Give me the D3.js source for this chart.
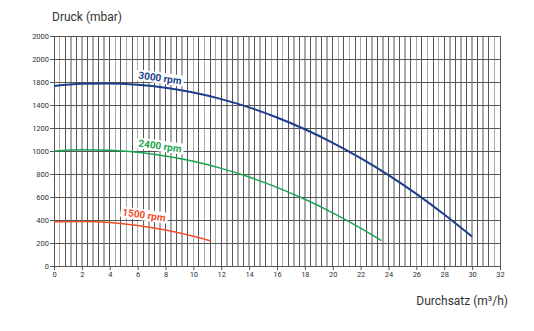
<!DOCTYPE html>
<html><head><meta charset="utf-8">
<script src="https://cdn.jsdelivr.net/npm/d3@7"></script>
<style>body{margin:0;background:#fff}svg{display:block}text{font-family:Roboto,"Noto Sans",sans-serif}</style>
</head><body><svg id="c" width="534" height="331"></svg>
<script>
const xTickValues = [0,2,4,6,8,10,12,14,16,18,20,22,24,26,28,30,32];
const yTickValues = [0,200,400,600,800,1000,1200,1400,1600,1800,2000];
const yTickLabels = ["0","200","400","600","800","1000","1200","1400","1800","2000","2000"];
const flow3000 = [0,2,4,6,8,10,12,14,16,18,20,22,24,26,28,30];
const press3000 = [1565,1584,1588,1576,1550,1508,1451,1379,1291,1189,1071,938,790,627,448,255];
const flow2400 = [0,2,4,6,8,10,12,14,16,18,20,22,23.5];
const press2400 = [1000,1011,1007,989,957,910,849,774,684,580,462,329,220];
const flow1500 = [0,2,4,6,8,10,11.2];
const press1500 = [385,388,378,352,313,259,220];
const seriesNames = ["3000 rpm","2400 rpm","1500 rpm"];

const svg = d3.select("#c");
const m = {l:54, r:34, t:36, b:65};
const W = 534, H = 331;
const x = d3.scaleLinear().domain([0,32]).range([m.l, W-m.r]);
const y = d3.scaleLinear().domain([0,2000]).range([H-m.b, m.t]);

// vertical grid (every 0.4), alternating
const g = svg.append("g");
d3.range(0, 81).forEach(i => {
  const v = i*0.4;
  g.append("line").attr("x1", x(v)).attr("x2", x(v)).attr("y1", y(2000)).attr("y2", y(0))
   .attr("stroke", i%2===0 ? "#555" : "#aaa").attr("stroke-width", i%2===0 ? 1 : 1.6)
   .attr("shape-rendering","crispEdges");
});
// horizontal grid
yTickValues.forEach(v => {
  g.append("line").attr("x1", x(0)-4).attr("x2", x(32)).attr("y1", y(v)).attr("y2", y(v))
   .attr("stroke", "#555").attr("stroke-width", 1).attr("shape-rendering","crispEdges");
});

// axes
const yAxis = d3.axisLeft(y).tickValues(yTickValues).tickSize(4).tickFormat((d,i)=>yTickLabels[i]);
const ya = svg.append("g").attr("transform",`translate(${m.l},0)`).call(yAxis);
const xAxis = d3.axisBottom(x).tickValues(xTickValues).tickSize(4).tickFormat(d=>d);
const xa = svg.append("g").attr("transform",`translate(0,${H-m.b})`).call(xAxis);
[ya,xa].forEach(a=>{
  a.select(".domain").attr("stroke","#555");
  a.selectAll(".tick line").attr("stroke","#555");
  a.selectAll(".tick text").attr("fill","#333").style("font-size","7.5px").style("font-family","Roboto,sans-serif");
});
ya.selectAll(".tick text").attr("x",-5);
xa.selectAll(".tick text").attr("y",6);

// titles
svg.append("text").attr("x",52).attr("y",21).attr("fill","#333").style("font-size","12px").text("Druck (mbar)");
svg.append("text").attr("x",508).attr("y",305).attr("text-anchor","end").attr("fill","#333").style("font-size","12px")
  .text("Durchsatz (m³/h)");

// curves
const line = d3.line().x(d=>x(d[0])).y(d=>y(d[1])).curve(d3.curveMonotoneX);
const series = [
  {name: seriesNames[0], fx: flow3000, py: press3000, color:"#1c3f8c", w:2},
  {name: seriesNames[1], fx: flow2400, py: press2400, color:"#1aa650", w:1.5},
  {name: seriesNames[2], fx: flow1500, py: press1500, color:"#f2502a", w:1.5}
];
series.forEach(s=>{
  svg.append("path").attr("d", line(s.fx.map((v,i)=>[v,s.py[i]])))
    .attr("fill","none").attr("stroke",s.color).attr("stroke-width",s.w);
});

// labels
const labelPos = [[160,78,8],[160,146,8],[144,215,8]];
series.forEach((s,i)=>{
  const [cx,cy,rot] = labelPos[i];
  const lg = svg.append("g").attr("transform",`translate(${cx},${cy}) rotate(${rot})`);
  const r = lg.append("rect").attr("fill","#fff");
  const t = lg.append("text").attr("text-anchor","middle").attr("dy","0.35em")
    .attr("fill",s.color).style("font-size","10px").style("font-weight","bold").text(s.name);
  const bb = t.node().getBBox();
  r.attr("x",bb.x-2).attr("y",bb.y).attr("width",bb.width+4).attr("height",bb.height).attr("rx",2);
});
</script></body></html>
